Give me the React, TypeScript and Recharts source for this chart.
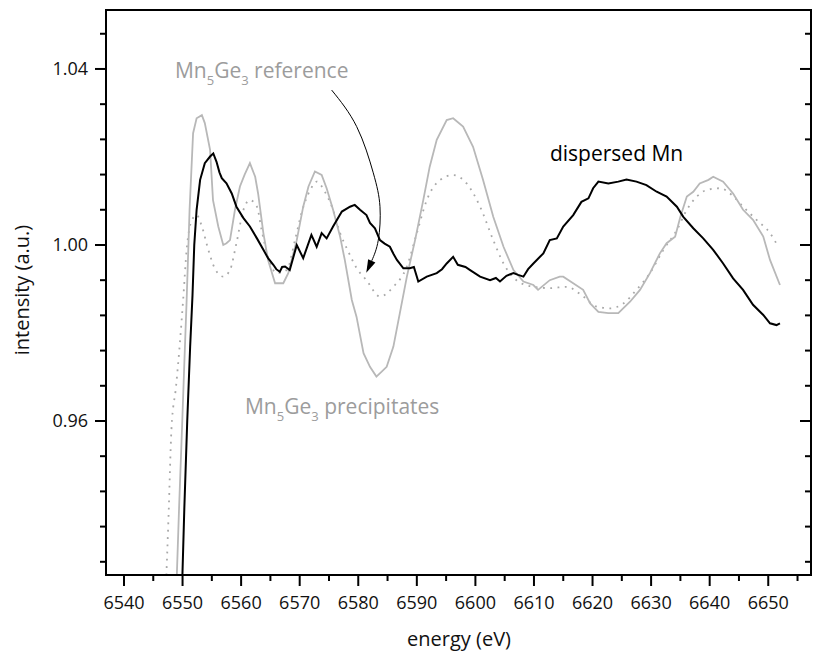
import React from "react";
import { LineChart, Line, XAxis, YAxis, ReferenceDot } from "recharts";

// dispersed Mn (black)
const dispersedEnergy = [
  6549.85, 6550.3, 6550.8, 6551.3, 6551.7, 6552.0, 6552.4, 6553.0, 6553.8, 6554.7,
  6555.25, 6555.8, 6556.3, 6556.7, 6557.5, 6558.4, 6559.2, 6560.4, 6561.5, 6562.7,
  6563.8, 6564.6, 6565.5, 6566.0, 6566.6, 6567.0, 6567.5, 6568.3, 6569.5, 6570.6,
  6572.0, 6572.9, 6573.75, 6574.6, 6575.7, 6577.2, 6578.6, 6579.4, 6580.3, 6581.4,
  6582.0, 6582.85, 6583.7, 6584.5, 6585.4, 6586.0, 6586.6, 6587.7, 6588.8, 6589.5,
  6590.25, 6591.7, 6593.4, 6594.3, 6595.1, 6596.2, 6597.0, 6598.3, 6599.1, 6600.8,
  6602.5, 6603.5, 6604.2, 6605.3, 6606.5, 6607.3, 6608.2, 6609.0, 6609.9, 6611.6,
  6612.7, 6613.9, 6615.0, 6616.7, 6618.1, 6619.3, 6620.1, 6621.0, 6622.7, 6624.4,
  6625.8, 6627.5, 6629.2, 6630.95, 6632.65, 6634.4, 6635.5, 6637.2, 6638.9, 6640.6,
  6642.3, 6644.0, 6645.7, 6647.4, 6649.15, 6650.3, 6651.4, 6652.0,
];
const dispersedIntensity = [
  0.919, 0.94, 0.96, 0.977, 0.9886, 1.0, 1.008, 1.0148, 1.0186, 1.0201,
  1.0208, 1.0189, 1.0165, 1.0152, 1.014, 1.0117, 1.0087, 1.0061, 1.0042, 1.0015,
  0.9989, 0.997, 0.9955, 0.9945, 0.9939, 0.995, 0.9951, 0.9943, 1.0, 0.997,
  1.0023, 0.9996, 1.0027, 1.0015, 1.0042, 1.0076, 1.0087, 1.0091, 1.008, 1.0068,
  1.005, 1.0038, 1.0011, 1.0003, 0.9996, 0.998, 0.9966, 0.9947, 0.9947, 0.995,
  0.9917, 0.9928, 0.9936, 0.9945, 0.9958, 0.9973, 0.9955, 0.995, 0.9943, 0.9928,
  0.992, 0.9925, 0.9917, 0.993, 0.9936, 0.9932, 0.9928, 0.9945, 0.9958, 0.9981,
  1.0011, 1.0015, 1.0042, 1.0068, 1.0098, 1.0106, 1.0129, 1.0144, 1.014, 1.0144,
  1.0149, 1.0144, 1.0136, 1.0121, 1.011, 1.0087, 1.0064, 1.0038, 1.0015, 0.9989,
  0.9958, 0.9924, 0.9898, 0.9864, 0.9841, 0.9822, 0.9818, 0.9822,
];

// Mn5Ge3 precipitates (grey solid)
const precipEnergy = [
  6548.9, 6549.4, 6549.9, 6550.3, 6550.7, 6551.2, 6551.8, 6552.4, 6553.3, 6553.8,
  6554.7, 6555.2, 6556.1, 6556.95, 6557.5, 6558.1, 6558.95, 6559.8, 6560.6, 6561.5,
  6562.4, 6562.9, 6563.8, 6564.6, 6565.8, 6567.2, 6568.05, 6569.5, 6570.6, 6571.5,
  6572.6, 6573.75, 6574.6, 6575.7, 6576.9, 6577.7, 6578.9, 6579.7, 6580.9, 6582.0,
  6583.1, 6584.0, 6584.85, 6586.0, 6587.1, 6588.3, 6589.7, 6591.1, 6592.2, 6593.4,
  6595.1, 6596.2, 6597.9, 6599.6, 6601.3, 6603.05, 6604.8, 6606.5, 6608.2, 6609.9,
  6610.7, 6612.7, 6614.4, 6615.0, 6616.7, 6618.4, 6619.6, 6621.0, 6622.7, 6624.4,
  6626.4, 6628.1, 6629.8, 6631.5, 6632.65, 6634.1, 6635.0, 6636.1, 6637.2, 6638.3,
  6639.8, 6640.6, 6642.3, 6644.0, 6645.7, 6647.4, 6649.15, 6650.3, 6652.0,
];
const precipIntensity = [
  0.92, 0.94, 0.958, 0.973, 0.9875, 1.008, 1.0254, 1.0288, 1.0295, 1.0277,
  1.0216, 1.0102, 1.0042, 1.0, 1.0004, 1.0011, 1.008, 1.0133, 1.016, 1.0186,
  1.0155, 1.0117, 1.0027, 0.9966, 0.9913, 0.9913, 0.9936, 1.0011, 1.0087, 1.0133,
  1.0167, 1.0159, 1.0129, 1.008, 1.0019, 0.9966, 0.9875, 0.9837, 0.9754, 0.9723,
  0.9701, 0.9712, 0.9723, 0.9769, 0.9845, 0.9928, 1.0011, 1.0102, 1.0178, 1.0239,
  1.0284, 1.0288, 1.0269, 1.0223, 1.0148, 1.0064, 0.9996, 0.9943, 0.9917, 0.9909,
  0.9898, 0.992, 0.9928, 0.9928, 0.9913, 0.9898, 0.9867, 0.9848, 0.9845, 0.9845,
  0.9871, 0.9898, 0.9936, 0.9981, 1.0004, 1.0019, 1.0064, 1.011, 1.0121, 1.014,
  1.0148, 1.0155, 1.0144, 1.0117, 1.008, 1.0057, 1.0019, 0.9966, 0.9909,
];

// Mn5Ge3 reference (grey dotted)
const referenceEnergy = [
  6547.1, 6547.6, 6548.1, 6548.9, 6549.5, 6550.1, 6550.7, 6551.6, 6552.4, 6553.3,
  6554.4, 6555.5, 6556.95, 6558.1, 6559.2, 6560.4, 6561.5, 6562.7, 6563.5, 6564.6,
  6566.1, 6567.8, 6569.2, 6570.3, 6571.8, 6572.9, 6574.3, 6575.5, 6576.9, 6578.3,
  6579.6, 6581.4, 6583.7, 6586.0, 6588.3, 6590.0, 6591.7, 6594.0, 6596.2, 6598.5,
  6600.8, 6603.05, 6604.8, 6607.0, 6609.9, 6612.7, 6615.6, 6618.4, 6620.7, 6623.0,
  6625.25, 6627.5, 6629.8, 6632.1, 6634.4, 6636.1, 6637.8, 6639.5, 6641.8, 6643.75,
  6645.7, 6648.0, 6650.3, 6651.7,
];
const referenceIntensity = [
  0.92, 0.938, 0.958, 0.968, 0.977, 0.9875, 0.9989, 1.0057, 1.0068, 1.0042,
  0.9989, 0.9947, 0.9928, 0.9943, 1.0004, 1.008, 1.0102, 1.0087, 1.0034, 0.9973,
  0.9936, 0.9943, 1.0011, 1.0072, 1.0125, 1.0144, 1.0121, 1.0087, 1.0027, 0.9985,
  0.995, 0.992, 0.9883, 0.9905, 0.9951, 1.0027, 1.0102, 1.0148, 1.0159, 1.014,
  1.0087, 1.0011, 0.9958, 0.992, 0.9905, 0.9902, 0.9905, 0.9883, 0.986, 0.9856,
  0.9867, 0.9898, 0.9936, 0.9989, 1.0034, 1.008, 1.011, 1.0125, 1.0129, 1.0114,
  1.0087, 1.0057, 1.0027, 0.9996,
];

// arrow from the "reference" label down to the dotted curve
const arrowEnergy = [6575.46, 6579.73, 6582.56, 6583.71, 6583.42, 6582.3];
const arrowIntensity = [1.0352, 1.0269, 1.0164, 1.0087, 1.0011, 0.9964];
const arrowTip = { energy: 6581.37, intensity: 0.9937 };

const xMajorTicks = [6540, 6550, 6560, 6570, 6580, 6590, 6600, 6610, 6620, 6630, 6640, 6650];
const xMinorTicks = [6545, 6555, 6565, 6575, 6585, 6595, 6605, 6615, 6625, 6635, 6645, 6655];
const yMajorTicks = [0.96, 1.0, 1.04];
const yMinorTicks = [
  0.928, 0.936, 0.944, 0.952, 0.968, 0.976, 0.984, 0.992, 1.008, 1.016, 1.024, 1.032, 1.048,
];

const xDomain = [6536.93, 6657.3];
const yDomain = [0.925, 1.0534];

const FONT = "'Open Sans', sans-serif";
const GREY_LINE = "#b8b8b8";
const GREY_DOT = "#a8a8a8";
const GREY_TEXT = "#9c9c9c";

const zip = (e: number[], v: number[]) => e.map((energy, i) => ({ energy, intensity: v[i] }));

const dispersedData = zip(dispersedEnergy, dispersedIntensity);
const precipData = zip(precipEnergy, precipIntensity);
const referenceData = zip(referenceEnergy, referenceIntensity);
const arrowData = zip(arrowEnergy, arrowIntensity);

const xTicks = [...xMajorTicks, ...xMinorTicks].sort((a, b) => a - b);
const yTicks = [...yMajorTicks, ...yMinorTicks].sort((a, b) => a - b);

const isMajor = (list: number[], v: number) => list.some((m) => Math.abs(m - v) < 1e-6);

const axisLine = { stroke: "#000", strokeWidth: 2, strokeLinecap: "square" as const };

// eslint-disable-next-line @typescript-eslint/no-explicit-any
function BottomTick({ x, y, payload }: any) {
  const major = isMajor(xMajorTicks, payload.value);
  return (
    <g>
      <line x1={x} y1={y} x2={x} y2={y + (major ? 11 : 6)} stroke="#000" strokeWidth={2} />
      {major && (
        <text x={x} y={y + 34} textAnchor="middle" fontSize={18} fontFamily={FONT} fill="#111">
          {payload.value}
        </text>
      )}
    </g>
  );
}

// eslint-disable-next-line @typescript-eslint/no-explicit-any
function TopTick({ x, y, payload }: any) {
  const major = isMajor(xMajorTicks, payload.value);
  return <line x1={x} y1={y} x2={x} y2={y + (major ? 11 : 6)} stroke="#000" strokeWidth={2} />;
}

// eslint-disable-next-line @typescript-eslint/no-explicit-any
function LeftTick({ x, y, payload }: any) {
  const major = isMajor(yMajorTicks, payload.value);
  return (
    <g>
      <line x1={x - (major ? 11 : 6)} y1={y} x2={x} y2={y} stroke="#000" strokeWidth={2} />
      {major && (
        <text x={x - 18} y={y + 6} textAnchor="end" fontSize={18} fontFamily={FONT} fill="#111">
          {payload.value.toFixed(2)}
        </text>
      )}
    </g>
  );
}

// eslint-disable-next-line @typescript-eslint/no-explicit-any
function RightTick({ x, y, payload }: any) {
  const major = isMajor(yMajorTicks, payload.value);
  return <line x1={x - (major ? 11 : 6)} y1={y} x2={x} y2={y} stroke="#000" strokeWidth={2} />;
}

// label with Mn5Ge3 subscripts, anchored at its left baseline
const compoundLabel = (suffix: string) =>
  // eslint-disable-next-line @typescript-eslint/no-explicit-any
  (props: any) => (
    <text x={props.cx} y={props.cy} fontSize={21} fontFamily={FONT} fill={GREY_TEXT}>
      Mn
      <tspan dy={7} fontSize={13}>5</tspan>
      <tspan dy={-7}>Ge</tspan>
      <tspan dy={7} fontSize={13}>3</tspan>
      <tspan dy={-7}>{" " + suffix}</tspan>
    </text>
  );

// eslint-disable-next-line @typescript-eslint/no-explicit-any
const dispersedLabel = (props: any) => (
  <text x={props.cx} y={props.cy} fontSize={21} fontFamily={FONT} fill="#000">
    dispersed Mn
  </text>
);

// eslint-disable-next-line @typescript-eslint/no-explicit-any
const arrowHead = (props: any) => (
  <polygon
    points="0,0 -13,-4 -13,4"
    fill="#000"
    transform={`translate(${props.cx},${props.cy}) rotate(115)`}
  />
);

export default function App() {
  return (
    <div style={{ position: "absolute", left: 0, top: 0, width: 819, height: 659, background: "#fff" }}>
      <LineChart width={819} height={659} margin={{ top: 0, right: 0, bottom: 0, left: 0 }}>
        <XAxis
          dataKey="energy"
          type="number"
          domain={xDomain}
          allowDataOverflow
          ticks={xTicks}
          interval={0}
          height={84}
          tickSize={0}
          tickMargin={0}
          tickLine={false}
          axisLine={axisLine}
          tick={<BottomTick />}
        />
        <XAxis
          xAxisId="top"
          orientation="top"
          type="number"
          domain={xDomain}
          allowDataOverflow
          ticks={xTicks}
          interval={0}
          height={10}
          tickSize={0}
          tickMargin={0}
          tickLine={false}
          axisLine={axisLine}
          tick={<TopTick />}
        />
        <YAxis
          type="number"
          domain={yDomain}
          allowDataOverflow
          ticks={yTicks}
          interval={0}
          width={106}
          tickSize={0}
          tickMargin={0}
          tickLine={false}
          axisLine={axisLine}
          tick={<LeftTick />}
        />
        <YAxis
          yAxisId="right"
          orientation="right"
          type="number"
          domain={yDomain}
          allowDataOverflow
          ticks={yTicks}
          interval={0}
          width={8}
          tickSize={0}
          tickMargin={0}
          tickLine={false}
          axisLine={axisLine}
          tick={<RightTick />}
        />
        <Line
          data={referenceData}
          dataKey="intensity"
          type="monotone"
          stroke={GREY_DOT}
          strokeWidth={1.8}
          strokeDasharray="1.8 5.5"
          dot={false}
          isAnimationActive={false}
        />
        <Line
          data={precipData}
          dataKey="intensity"
          type="linear"
          stroke={GREY_LINE}
          strokeWidth={1.8}
          dot={false}
          isAnimationActive={false}
        />
        <Line
          data={dispersedData}
          dataKey="intensity"
          type="linear"
          stroke="#000"
          strokeWidth={2}
          dot={false}
          isAnimationActive={false}
        />
        <Line
          data={arrowData}
          dataKey="intensity"
          type="natural"
          stroke="#000"
          strokeWidth={1}
          dot={false}
          isAnimationActive={false}
        />
        <ReferenceDot x={arrowTip.energy} y={arrowTip.intensity} r={0} shape={arrowHead} />
        <ReferenceDot x={6548.7} y={1.038} r={0} shape={compoundLabel("reference")} />
        <ReferenceDot x={6560.66} y={0.9616} r={0} shape={compoundLabel("precipitates")} />
        <ReferenceDot x={6612.73} y={1.0191} r={0} shape={dispersedLabel} />
      </LineChart>
      <div
        style={{
          position: "absolute",
          left: 359,
          top: 627,
          width: 200,
          textAlign: "center",
          fontFamily: FONT,
          fontSize: 20,
          lineHeight: "24px",
          color: "#111",
        }}
      >
        energy (eV)
      </div>
      <div
        style={{
          position: "absolute",
          left: -78,
          top: 278,
          width: 200,
          height: 24,
          textAlign: "center",
          fontFamily: FONT,
          fontSize: 20,
          lineHeight: "24px",
          color: "#111",
          transform: "rotate(-90deg)",
        }}
      >
        intensity (a.u.)
      </div>
    </div>
  );
}
